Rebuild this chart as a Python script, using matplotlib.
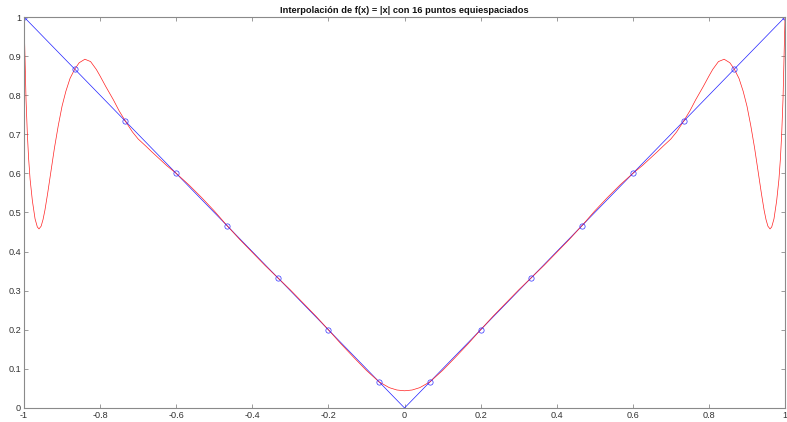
import matplotlib
matplotlib.use("Agg")
import matplotlib.pyplot as plt

# ---------------------------------------------------------------------------
# Data
# ---------------------------------------------------------------------------
title = "Interpolación de f(x) = |x| con 16 puntos equiespaciados"

# 16 equispaced nodes on [-1, 1] and f(x) = |x| at them
node_x = [-1.0, -0.8667, -0.7333, -0.6, -0.4667, -0.3333, -0.2, -0.0667,
          0.0667, 0.2, 0.3333, 0.4667, 0.6, 0.7333, 0.8667, 1.0]
node_y = [1.0, 0.8667, 0.7333, 0.6, 0.4667, 0.3333, 0.2, 0.0667,
          0.0667, 0.2, 0.3333, 0.4667, 0.6, 0.7333, 0.8667, 1.0]

# f(x) = |x| (blue polyline)
abs_x = [-1.0, 0.0, 1.0]
abs_y = [1.0, 0.0, 1.0]

# interpolating polynomial (red)
poly_x = [-1.0, -0.9974, -0.9947, -0.9913, -0.988, -0.984, -0.978, -0.971,
          -0.965, -0.9606, -0.955, -0.950, -0.945, -0.938, -0.930, -0.920,
          -0.910, -0.900, -0.890, -0.879, -0.8667, -0.855, -0.840, -0.825,
          -0.810, -0.800, -0.785, -0.765, -0.750, -0.7333, -0.715, -0.700,
          -0.680, -0.665, -0.645, -0.625, -0.600, -0.567, -0.533, -0.500,
          -0.4667, -0.433, -0.400, -0.367, -0.3333, -0.300, -0.267, -0.233,
          -0.200, -0.167, -0.133, -0.100, -0.0667, -0.040, -0.020, 0.0,
          0.020, 0.040, 0.0667, 0.100, 0.133, 0.167, 0.200, 0.233, 0.267,
          0.300, 0.3333, 0.367, 0.400, 0.433, 0.4667, 0.500, 0.533, 0.567,
          0.600, 0.625, 0.645, 0.665, 0.680, 0.700, 0.715, 0.7333, 0.750,
          0.765, 0.785, 0.800, 0.810, 0.825, 0.840, 0.855, 0.8667, 0.879,
          0.890, 0.900, 0.910, 0.920, 0.930, 0.938, 0.945, 0.950, 0.955,
          0.9606, 0.965, 0.971, 0.978, 0.984, 0.988, 0.9913, 0.9947, 0.9974,
          1.0]
poly_y = [1.0, 0.898, 0.790, 0.703, 0.640, 0.585, 0.530, 0.484,
          0.463, 0.458, 0.465, 0.482, 0.506, 0.548, 0.600, 0.665,
          0.722, 0.772, 0.810, 0.843, 0.8667, 0.883, 0.892, 0.886,
          0.866, 0.849, 0.822, 0.788, 0.760, 0.7333, 0.706, 0.688,
          0.670, 0.656, 0.638, 0.620, 0.600, 0.571, 0.538, 0.504,
          0.4667, 0.431, 0.398, 0.365, 0.3333, 0.302, 0.269, 0.235,
          0.200, 0.164, 0.129, 0.096, 0.0667, 0.052, 0.046, 0.044,
          0.046, 0.052, 0.0667, 0.096, 0.129, 0.164, 0.200, 0.235, 0.269,
          0.302, 0.3333, 0.365, 0.398, 0.431, 0.4667, 0.504, 0.538, 0.571,
          0.600, 0.620, 0.638, 0.656, 0.670, 0.688, 0.706, 0.7333, 0.760,
          0.788, 0.822, 0.849, 0.866, 0.886, 0.892, 0.883, 0.8667, 0.843,
          0.810, 0.772, 0.722, 0.665, 0.600, 0.548, 0.506, 0.482, 0.465,
          0.458, 0.463, 0.484, 0.530, 0.585, 0.640, 0.703, 0.790, 0.898,
          1.0]

x_ticks = [-1, -0.8, -0.6, -0.4, -0.2, 0, 0.2, 0.4, 0.6, 0.8, 1]
x_labels = ["-1", "-0.8", "-0.6", "-0.4", "-0.2", "0", "0.2", "0.4", "0.6", "0.8", "1"]
y_ticks = [0, 0.1, 0.2, 0.3, 0.4, 0.5, 0.6, 0.7, 0.8, 0.9, 1]
y_labels = ["0", "0.1", "0.2", "0.3", "0.4", "0.5", "0.6", "0.7", "0.8", "0.9", "1"]

# ---------------------------------------------------------------------------
# Figure
# ---------------------------------------------------------------------------
plt.rcParams.update({
    "font.family": ["Liberation Sans", "DejaVu Sans"],
    "font.size": 6.6,
})

fig = plt.figure(figsize=(7.87, 4.22), dpi=100)
ax = fig.add_axes([0.0305, 0.0332, 0.967, 0.9265])

ax.plot(abs_x, abs_y, color="#2020ff", linewidth=0.5)
ax.plot(poly_x, poly_y, color="#ff2020", linewidth=0.5)
ax.plot(node_x, node_y, linestyle="none", marker="o", markersize=3.8,
        markerfacecolor="none", markeredgecolor="#3030ff", markeredgewidth=0.5)

ax.set_xlim(-1, 1)
ax.set_ylim(0, 1)
ax.set_xticks(x_ticks)
ax.set_xticklabels(x_labels)
ax.set_yticks(y_ticks)
ax.set_yticklabels(y_labels)

for side in ax.spines.values():
    side.set_color("#8a8a8a")
    side.set_linewidth(0.8)
ax.tick_params(direction="in", length=3, width=0.6, color="#8a8a8a",
               labelcolor="#333333", top=True, right=True, pad=2)

ax.set_title(title, fontsize=6.7, fontweight="bold", color="#111111", pad=3)

fig.savefig("out.png", dpi=100)
